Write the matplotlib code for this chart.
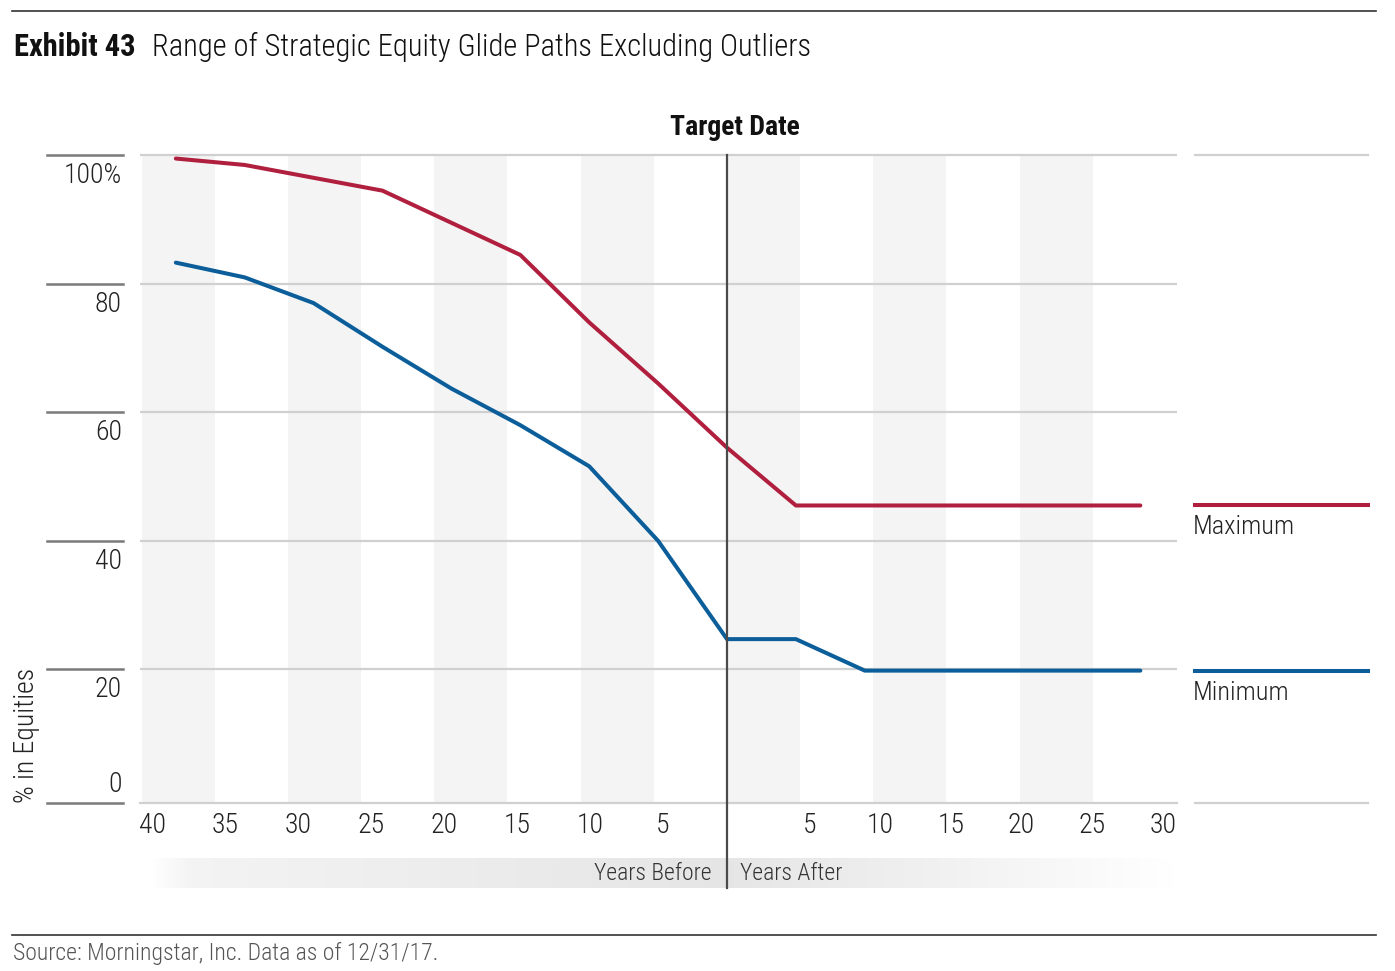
import matplotlib
matplotlib.use("Agg")
import matplotlib.pyplot as plt
import numpy as np
from matplotlib import font_manager
from matplotlib.lines import Line2D
from matplotlib.transforms import offset_copy

# glide path data (years relative to target date, % in equities)
years = [-40, -35, -30, -25, -20, -15, -10, -5, 0, 5, 10, 15, 20, 25, 30]
max_equity = [99.5, 98.5, 96.5, 94.5, 89.5, 84.5, 74.0, 64.5, 54.5, 45.5, 45.5, 45.5, 45.5, 45.5, 45.5]
min_equity = [83.3, 81.0, 77.0, 70.2, 63.7, 58.0, 51.6, 40.0, 24.7, 24.7, 19.8, 19.8, 19.8, 19.8, 19.8]

before_ticks = [40, 35, 30, 25, 20, 15, 10, 5]
after_ticks = [5, 10, 15, 20, 25, 30]
y_ticks = [100, 80, 60, 40, 20]
y_tick_labels = ["100%", "80", "60", "40", "20"]

RED = "#B01F3E"
BLUE = "#0B5E9A"
GRID = "#d0d0d0"
BAND = "#f4f4f4"
TXT = "#222222"
LIGHT = "light"

# pick a condensed sans if one is installed
fonts = font_manager.fontManager.ttflist
CONDENSED = ("condensed", "semi-condensed", "extra-condensed", "ultra-condensed")
font_name, font_stretch = "Roboto", "normal"
for pref in ["Roboto Condensed", "Liberation Sans Narrow", "DejaVu Sans", "Open Sans", "Noto Sans"]:
    hits = [f for f in fonts if f.name == pref and (f.stretch in CONDENSED or pref.endswith(("Narrow", "Condensed")))]
    if hits:
        font_name, font_stretch = pref, hits[0].stretch
        break
plt.rcParams["font.family"] = [font_name, "DejaVu Sans"]
plt.rcParams["font.stretch"] = font_stretch
shrink = 1.0 if font_name != "Roboto" else 0.9

W, H = 1395, 971
fig = plt.figure(figsize=(W / 100, H / 100), dpi=100)

# main axes, placed in pixel terms
Y0, Y1 = -0.76, 100.3
ax = fig.add_axes([140 / W, 1 - 802.7 / H, 1037 / W, (802.7 - 153.4) / H])
ax.set_xlim(-42.6, 32.66)
ax.set_ylim(Y0, Y1)
ax.set_zorder(2)
for s in ax.spines.values():
    s.set_visible(False)
ax.set_yticks([])

# alternating shaded bands (the label scale is slightly wider than the data scale)
BAND_SCALE = 1.062
top_frac = (100 - Y0) / (Y1 - Y0)
for start in range(-40, 30, 10):
    ax.axvspan(start * BAND_SCALE, (start + 5) * BAND_SCALE, ymin=0, ymax=top_frac,
               color=BAND, lw=0, zorder=0)

for v in y_ticks:
    ax.axhline(v, color=GRID, lw=1.6, zorder=1)
ax.axhline(Y0, color=GRID, lw=1.6, zorder=1, clip_on=False)

ax.plot(years, max_equity, color=RED, lw=2.9, zorder=4, solid_capstyle="round")
ax.plot(years, min_equity, color=BLUE, lw=2.9, zorder=4, solid_capstyle="round")

# target date line, running down through the years before/after bar
ax.plot([0, 0], [top_frac, -0.131], transform=ax.get_xaxis_transform(),
        color="#4a4a4a", lw=1.6, zorder=6, clip_on=False)
ax.text(0.6, 102.2, "Target Date", ha="center", va="bottom", fontsize=20 * shrink,
        fontweight="bold", color="#111111")


# x tick labels
def tick_pos(v):
    if v < 0:
        return 1.058 * v + 0.62
    return 1.026 * v + 0.85


xt = [tick_pos(-v) for v in before_ticks] + [tick_pos(v) for v in after_ticks]
xl = [str(v) for v in before_ticks] + [str(v) for v in after_ticks]
ax.set_xticks(xt, labels=xl)
ax.tick_params(axis="x", length=0, pad=7, labelsize=20 * shrink, labelcolor=TXT)
for lab in ax.get_xticklabels():
    lab.set_fontweight(LIGHT)

# y tick stubs and labels on the left
ytr = ax.get_yaxis_transform()
for v, lab in zip(y_ticks, y_tick_labels):
    ax.plot([-0.0897, -0.0165], [v, v], transform=ytr, color="#7a7a7a", lw=1.8, clip_on=False)
    ax.text(-0.0174, v, lab, transform=offset_copy(ytr, fig=fig, y=-7, units="dots"),
            ha="right", va="top", fontsize=20 * shrink, color=TXT, fontweight=LIGHT)
ax.plot([-0.0897, -0.0165], [Y0, Y0], transform=ytr, color="#7a7a7a", lw=1.8, clip_on=False)
ax.text(-0.0174, Y0, "0", transform=offset_copy(ytr, fig=fig, y=5, units="dots"),
        ha="right", va="bottom", fontsize=20 * shrink, color=TXT, fontweight=LIGHT)

fig.text(27 / W, 1 - 803 / H, "% in Equities", rotation=90, ha="center", va="bottom",
         fontsize=20 * shrink, color=TXT, fontweight=LIGHT)

# legend panel on the right
lx = [1.0174, 1.1842]
ax.plot(lx, [100, 100], transform=ytr, color=GRID, lw=1.6, clip_on=False)
ax.plot(lx, [Y0, Y0], transform=ytr, color=GRID, lw=1.6, clip_on=False)
ax.plot(lx, [max_equity[-1]] * 2, transform=ytr, color=RED, lw=2.9, clip_on=False)
ax.plot(lx, [min_equity[-1]] * 2, transform=ytr, color=BLUE, lw=2.9, clip_on=False)
ax.text(1.0154, max_equity[-1], "Maximum", transform=offset_copy(ytr, fig=fig, y=-10, units="dots"),
        ha="left", va="top", fontsize=19 * shrink, color=TXT, fontweight=LIGHT)
ax.text(1.0154, min_equity[-1], "Minimum", transform=offset_copy(ytr, fig=fig, y=-10, units="dots"),
        ha="left", va="top", fontsize=19 * shrink, color=TXT, fontweight=LIGHT)

# years before / after gradient bar
bar = fig.add_axes([150 / W, 1 - 888 / H, 1025 / W, 30 / H])
bar.set_zorder(1)
n = 600
xs = np.linspace(0, 1, n)
prof = np.interp(xs, [0, 0.04, 0.56, 0.75, 1.0], [0.0, 0.45, 1.0, 0.6, 0.0])
gray = 1 - 0.1 * prof
img = np.ones((1, n, 3)) * gray[None, :, None]
bar.imshow(img, aspect="auto", extent=(0, 1, 0, 1))
bar.axis("off")
fig.text(712 / W, 1 - 873 / H, "Years Before", ha="right", va="center", fontsize=17 * shrink,
         color="#333333", fontweight=LIGHT)
fig.text(740 / W, 1 - 873 / H, "Years After", ha="left", va="center", fontsize=17 * shrink,
         color="#333333", fontweight=LIGHT)

# title
t1 = fig.text(14 / W, 1 - 56 / H, "Exhibit 43", ha="left", va="baseline", fontsize=22 * shrink,
              fontweight="bold", color="#111111")
fig.canvas.draw()
bb = t1.get_window_extent()
fig.text((bb.x1 + 16) / W, 1 - 56 / H, "Range of Strategic Equity Glide Paths Excluding Outliers",
         ha="left", va="baseline", fontsize=22 * shrink, color="#111111", fontweight=LIGHT)

fig.add_artist(Line2D([12 / W, 1376 / W], [1 - 11 / H] * 2, transform=fig.transFigure,
                      color="#333333", lw=1.2))
fig.add_artist(Line2D([12 / W, 1376 / W], [1 - 935 / H] * 2, transform=fig.transFigure,
                      color="#333333", lw=1.2))
fig.text(13 / W, 1 - 953 / H, "Source: Morningstar, Inc. Data as of 12/31/17.", ha="left",
         va="center", fontsize=17 * shrink, color="#555555", fontweight=LIGHT)

fig.savefig("out.png", dpi=100)
